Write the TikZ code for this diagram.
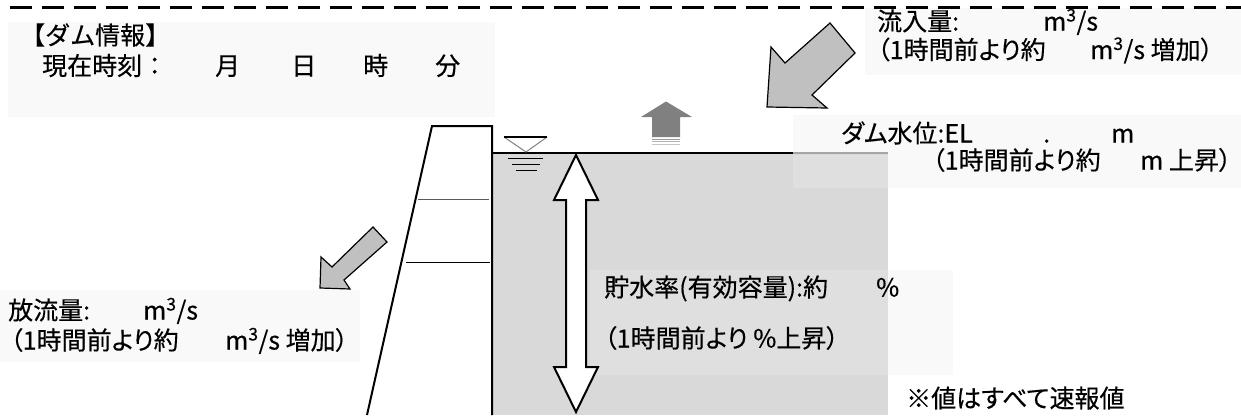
\documentclass[tikz,border=0pt]{standalone}
\usepackage{fontspec}
\setmainfont{Noto Sans CJK JP}[RawFeature={+palt}, FakeBold=0.35]
\newfontfamily\fullwidthfont{Noto Sans CJK JP}[FakeBold=0.35]
\definecolor{water}{HTML}{D9D9D9}
\definecolor{arrowgray}{HTML}{C0C0C0}
\definecolor{uparrow}{HTML}{808080}
\definecolor{boxbg}{HTML}{F9F9F9}
\tikzset{
  outl/.style={line width=2pt, line join=miter},
  garrow/.style={fill=arrowgray, draw=black, line width=1.2pt, line join=miter},
  txt/.style={anchor=base west, inner sep=0pt, font=\fontsize{25}{30}\selectfont},
  titletxt/.style={anchor=base west, inner sep=0pt, font=\fullwidthfont\fontsize{25}{30}\selectfont},
  textbg/.style={fill=boxbg, draw=none},
}
\begin{document}
\begin{tikzpicture}[x=1pt, y=-1pt]
\useasboundingbox (0,0) rectangle (1241,415);
\fill[white] (0,0) rectangle (1241,415);
% faint text box backgrounds
\fill[textbg] (8,22) rectangle (495,117);
\fill[textbg] (865,8) rectangle (1241,75);
\fill[textbg] (793,115) rectangle (1241,188);
\fill[textbg] (590,270) rectangle (953,375);
\fill[textbg] (0,290) rectangle (360,362);
% dashed line
\coordinate (dl) at (10,7);
\coordinate (dr) at (1241,7);
\draw[line width=3pt, dash pattern=on 22pt off 10pt] (dl) -- (dr);
% water
\fill[water] (492,153) rectangle (888,415);
\fill[water!85!white] (793,155) rectangle (888,188);
\fill[water!85!white] (590,270) rectangle (888,375);
\coordinate (wl0) at (492,153);
\coordinate (wl1) at (793,153);
\coordinate (wl2) at (888,153);
\draw[line width=2pt] (wl0) -- (wl1);
\draw[line width=2pt, gray!70] (wl1) -- (wl2);
% dam
\coordinate (d1) at (367,415);
\coordinate (d2) at (432,126);
\coordinate (d3) at (492,126);
\coordinate (d4) at (492,415);
\draw[outl] (d1) -- (d2) -- (d3) -- (d4);
\coordinate (h1a) at (418,199);
\coordinate (h1b) at (489,199);
\coordinate (h2a) at (406,262);
\coordinate (h2b) at (490,262);
\draw[line width=1pt, gray!70!black] (h1a) -- (h1b);
\draw[line width=1pt] (h2a) -- (h2b);
% water level mark
\coordinate (t1) at (504,137);
\coordinate (t2) at (547,137);
\coordinate (t3) at (526,152);
\draw[line width=1pt, gray] (t2) -- (t3) -- (t1);
\draw[line width=1.2pt] (t1) -- (t2);
\draw[line width=1pt] (508,158.5) -- (543,158.5);
\draw[line width=1pt] (512,164.5) -- (540,164.5);
\draw[line width=1pt] (516,170.5) -- (537,170.5);
% up arrow (rising level)
\fill[uparrow] (641,117) -- (666,101.5) -- (692,117) -- (680,117) -- (680,137) -- (652,137) -- (652,117) -- cycle;
\draw[line width=1pt, uparrow!80!white] (652,139.5) -- (680,139.5);
\draw[line width=1pt, uparrow!60!white] (652,141.8) -- (680,141.8);
\draw[line width=1pt, uparrow!45!white] (652,144) -- (680,144);
% double arrow (storage)
\draw[outl, fill=white] (576,155) -- (598,200) -- (586,200) -- (586,367) -- (598,367) -- (576,412)
  -- (554,367) -- (566,367) -- (566,200) -- (554,200) -- cycle;
% inflow arrow
\draw[garrow] (830,23) -- (785,63) -- (771,47) -- (767,107) -- (827,108) -- (812,95) -- (855,53) -- cycle;
% outflow arrow
\draw[garrow] (373,227) -- (332,267) -- (321,257) -- (320,288) -- (350,289) -- (344,280) -- (387,242) -- cycle;
% texts
\node[titletxt] (title) at (20,44.5) {【ダム情報】};
\node[titletxt] (now) at (42,75) {現在時刻：};
\node[txt] (mon) at (215,75) {月};
\node[txt] (day) at (291,75) {日};
\node[txt] (hour) at (363,75) {時};
\node[txt] (min) at (435,75) {分};
\node[txt] (inl) at (877,30.5) {流入量:};
\node[txt] (inu) at (1043,30.5) {m\textsuperscript{3}/s};
\node[txt] (inl2) at (877,59) {（1時間前より約};
\node[txt] (inu2) at (1090,59) {m\textsuperscript{3}/s 増加）};
\node[txt] (lvl) at (841,142.5) {ダム水位:EL};
\node[txt] (lvdot) at (1043,142.5) {.};
\node[txt] (lvm) at (1111,142.5) {m};
\node[txt] (lvl2) at (932,169.5) {（1時間前より約};
\node[txt] (lvu2) at (1140,169.5) {m 上昇）};
\node[txt] (sto) at (604,296.5) {貯水率(有効容量):約};
\node[txt] (stop) at (876,296.5) {\%};
\node[txt] (sto2) at (604,347.5) {（1時間前より \%上昇）};
\node[txt] (note) at (906,407.5) {※値はすべて速報値};
\node[txt] (outl1) at (8,319.5) {放流量:};
\node[txt] (outu) at (143,319.5) {m\textsuperscript{3}/s};
\node[txt] (outl2) at (10,349.5) {（1時間前より約};
\node[txt] (outu2) at (225,349.5) {m\textsuperscript{3}/s 増加）};
\end{tikzpicture}
\end{document}
